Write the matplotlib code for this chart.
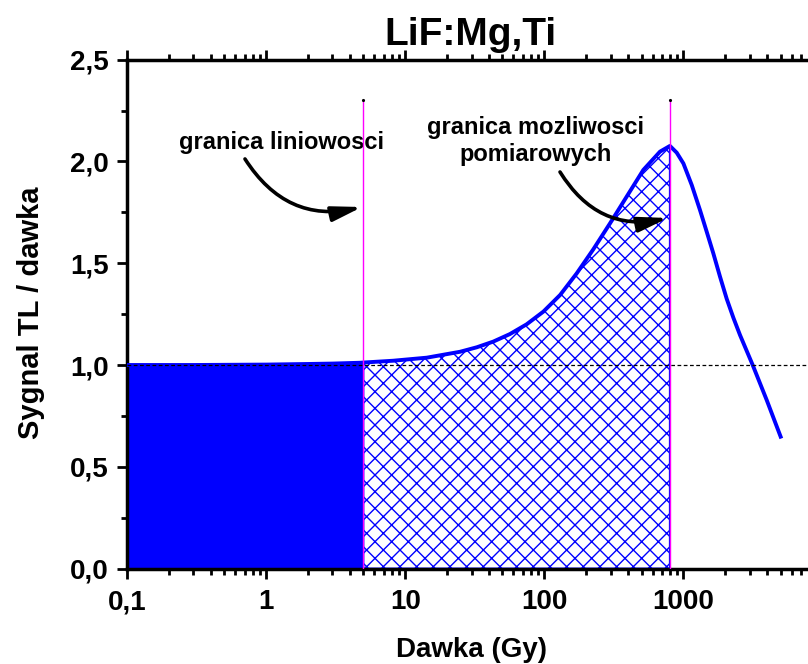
import matplotlib
matplotlib.use("Agg")
import matplotlib.pyplot as plt
from matplotlib.ticker import FixedLocator, LogLocator, NullFormatter
import numpy as np

plt.rcParams['font.family'] = ['Liberation Sans', 'DejaVu Sans']
plt.rcParams['font.weight'] = 'bold'
plt.rcParams['axes.labelweight'] = 'bold'
plt.rcParams['hatch.linewidth'] = 1.0
plt.rcParams['hatch.color'] = '#0000ff'

# dawka (Gy) i sygnal TL / dawka
dose = np.array([0.1, 0.3, 1, 2, 3, 4.73, 8.2, 14.3, 24.8, 32.7, 43, 56.6,
                 74.7, 98.4, 130, 171, 225, 297, 391, 515, 679, 800,
                 895, 1000, 1148, 1316, 1470, 1640, 1833, 2048, 2287,
                 2553, 3148, 3970, 5000])
signal = np.array([1.0, 1.0, 1.002, 1.005, 1.007, 1.011, 1.021, 1.036, 1.065,
                   1.087, 1.115, 1.152, 1.20, 1.262, 1.344, 1.45, 1.568,
                   1.696, 1.827, 1.958, 2.048, 2.076,
                   2.043, 1.99, 1.884, 1.761, 1.655, 1.549, 1.434, 1.325,
                   1.232, 1.147, 1.0, 0.828, 0.648])

lin_limit = 5
meas_limit = 800

x_ticks = [0.1, 1, 10, 100, 1000]
x_labels = ['0,1', '1', '10', '100', '1000']
y_ticks = [0.0, 0.5, 1.0, 1.5, 2.0, 2.5]
y_labels = ['0,0', '0,5', '1,0', '1,5', '2,0', '2,5']

blue = '#0000ff'
magenta = '#ff00ff'

fig = plt.figure(figsize=(8.08, 6.64), dpi=100)
ax = fig.add_axes([127 / 808, 95.4 / 664, 695.5 / 808, 509 / 664])

ax.set_xscale('log')
ax.set_xlim(0.1, 10000)
ax.set_ylim(0, 2.5)

# granice obszarow na krzywej
sig_lin = np.interp(np.log10(lin_limit), np.log10(dose), signal)
d_lin = np.append(dose[dose < lin_limit], lin_limit)
s_lin = np.append(signal[dose < lin_limit], sig_lin)
inside = (dose > lin_limit) & (dose <= meas_limit)
d_meas = np.concatenate([[lin_limit], dose[inside]])
s_meas = np.concatenate([[sig_lin], signal[inside]])

ax.fill_between(d_lin, 0, s_lin, color=blue, lw=0, zorder=1)
ax.fill_between(d_meas, 0, s_meas, facecolor='white',
                edgecolor=blue, hatch='xx', lw=1.5, zorder=1)

ax.plot(dose, signal, color=blue, lw=2.8, zorder=3, solid_joinstyle='round')
ax.axhline(1.0, color='k', ls=(0, (3, 2)), lw=0.9, zorder=4)

for xv in (lin_limit, meas_limit):
    ax.plot([xv, xv], [0, 2.3], color=magenta, lw=1.0, zorder=5)
    ax.plot([xv], [2.3], 'k.', ms=2.5, zorder=5)

# opisy ze strzalkami
ax.text(1.28, 2.095, 'granica liniowosci', fontsize=17, ha='center', va='center')
ax.text(86.5, 2.10, 'granica mozliwosci\npomiarowych', fontsize=17,
        ha='center', va='center', linespacing=1.2)
arrow = dict(arrowstyle='-|>,head_length=1.8,head_width=0.45', lw=2.6,
             color='k', connectionstyle='arc3,rad=0.35', mutation_scale=10,
             shrinkA=0, shrinkB=0)
ax.annotate('', xy=(4.89, 1.776), xytext=(0.705, 2.012), arrowprops=arrow)
ax.annotate('', xy=(775, 1.722), xytext=(129.7, 1.948), arrowprops=arrow)

# osie
ax.xaxis.set_major_locator(FixedLocator(x_ticks))
ax.set_xticklabels(x_labels)
ax.xaxis.set_minor_locator(LogLocator(base=10, subs=np.arange(2, 10)))
ax.xaxis.set_minor_formatter(NullFormatter())
ax.yaxis.set_major_locator(FixedLocator(y_ticks))
ax.set_yticklabels(y_labels)
ax.yaxis.set_minor_locator(FixedLocator([0.25, 0.75, 1.25, 1.75, 2.25]))

for side in ('left', 'bottom', 'top'):
    ax.spines[side].set_linewidth(2.5)
ax.spines['right'].set_visible(False)
ax.tick_params(which='both', direction='out', top=True, right=False, width=2.0)
ax.tick_params(which='major', length=7, labelsize=20)
ax.tick_params(which='minor', length=4)
ax.tick_params(axis='x', which='major', pad=8)
ax.tick_params(axis='y', which='major', pad=6)

ax.set_xlabel('Dawka (Gy)', fontsize=20, va='center')
ax.xaxis.set_label_coords((471 - 127) / 695.5, (568.6 - 650) / 509)
ax.set_ylabel('Sygnal TL / dawka', fontsize=21, va='center')
ax.yaxis.set_label_coords((31 - 127) / 695.5, 0.502)

fig.text(470 / 808, 1 - 45 / 664, 'LiF:Mg,Ti', fontsize=28, ha='center',
         va='baseline')

fig.savefig('out.png', dpi=100)
